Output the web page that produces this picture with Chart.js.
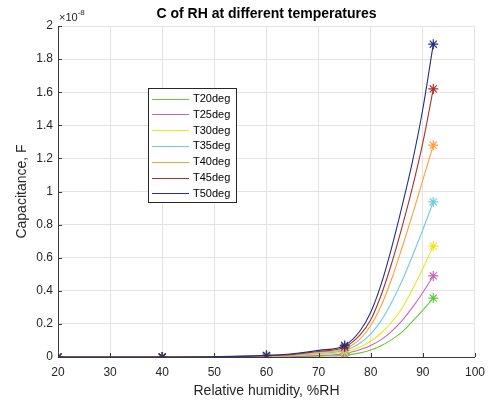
<!DOCTYPE html>
<html>
<head>
<meta charset="utf-8">
<script src="https://cdn.jsdelivr.net/npm/chart.js@4/dist/chart.umd.min.js"></script>
<style>
html,body{margin:0;padding:0;background:#fff;}
#wrap{width:493px;height:401px;position:relative;}
</style>
</head>
<body>
<div id="wrap"><canvas id="c" width="493" height="401"></canvas></div>
<script>
// ---- data (capacitance values in units of 1e-8 F) ----
const seriesLabels = ["T20deg","T25deg","T30deg","T35deg","T40deg","T45deg","T50deg"];
const seriesColors = ["#6cc644","#c766b8","#f0e41c","#6ccbe0","#ff9f3a","#a8322d","#26307e"];

// measured points (markers)
const measRH = [20, 40, 60, 75, 92];
const measT20 = [0, 0, 0.001, 0.01, 0.356];
const measT25 = [0, 0, 0.002, 0.02, 0.49];
const measT30 = [0, 0, 0.004, 0.03, 0.67];
const measT35 = [0, 0, 0.005, 0.04, 0.937];
const measT40 = [0, 0, 0.006, 0.05, 1.28];
const measT45 = [0, 0, 0.008, 0.06, 1.62];
const measT50 = [0, 0, 0.01, 0.07, 1.89];

// fitted curves
const curveRH  = [20, 40, 60, 65, 70, 75, 78, 80, 82, 84, 86, 88, 90, 92];
const curveT20 = [0, 0, 0.001, 0.003, 0.005, 0.01, 0.025, 0.042, 0.068, 0.105, 0.15, 0.215, 0.283, 0.356];
const curveT25 = [0, 0, 0.002, 0.005, 0.01, 0.02, 0.045, 0.07, 0.105, 0.155, 0.22, 0.30, 0.39, 0.49];
const curveT30 = [0, 0, 0.004, 0.008, 0.015, 0.03, 0.06, 0.095, 0.145, 0.21, 0.295, 0.41, 0.535, 0.67];
const curveT35 = [0, 0, 0.005, 0.01, 0.021, 0.04, 0.085, 0.14, 0.22, 0.33, 0.46, 0.61, 0.77, 0.937];
const curveT40 = [0, 0, 0.006, 0.013, 0.027, 0.05, 0.11, 0.19, 0.31, 0.47, 0.66, 0.86, 1.07, 1.28];
const curveT45 = [0, 0, 0.008, 0.016, 0.033, 0.06, 0.135, 0.225, 0.375, 0.565, 0.785, 1.025, 1.295, 1.62];
const curveT50 = [0, 0, 0.01, 0.02, 0.04, 0.07, 0.16, 0.27, 0.44, 0.66, 0.91, 1.18, 1.50, 1.89];

const xTicks = [20, 30, 40, 50, 60, 70, 80, 90, 100];
const yTicks = [0, 0.2, 0.4, 0.6, 0.8, 1, 1.2, 1.4, 1.6, 1.8, 2];

const titleText = "C of RH at different temperatures";
const xTitle = "Relative humidity, %RH";
const yTitle = "Capacitance, F";

// ---- build datasets ----
const meas = [measT20, measT25, measT30, measT35, measT40, measT45, measT50];
const curves = [curveT20, curveT25, curveT30, curveT35, curveT40, curveT45, curveT50];
const toPts = (xs, ys) => xs.map((x, i) => ({x: x, y: ys[i]}));
const datasets = [];
for (let i = 0; i < seriesLabels.length; i++) {
  datasets.push({
    label: seriesLabels[i],
    data: toPts(measRH, meas[i]),
    showLine: false,
    pointStyle: 'star',
    pointRadius: 5,
    pointBorderWidth: 1.2,
    borderColor: seriesColors[i],
    backgroundColor: seriesColors[i],
    order: 2 * (seriesLabels.length - 1 - i) + 1
  });
  datasets.push({
    label: seriesLabels[i],
    data: toPts(curveRH, curves[i]),
    showLine: true,
    pointRadius: 0,
    borderWidth: 1.1,
    borderColor: seriesColors[i],
    backgroundColor: seriesColors[i],
    cubicInterpolationMode: 'monotone',
    order: 2 * (seriesLabels.length - 1 - i) + 1
  });
}

const FONT = '"Liberation Sans", Arial, Helvetica, sans-serif';
const gridColor = '#e3e3e3';
const axisColor = '#3a3a3a';

const decor = {
  id: 'decor',
  afterDraw(chart) {
    const ctx = chart.ctx;
    const a = chart.chartArea;
    const xs = chart.scales.x, ys = chart.scales.y;
    ctx.save();
    // inward tick marks
    ctx.strokeStyle = axisColor;
    ctx.lineWidth = 1;
    ctx.beginPath();
    xTicks.forEach(v => {
      const px = Math.round(xs.getPixelForValue(v)) + 0.5;
      ctx.moveTo(px, a.bottom); ctx.lineTo(px, a.bottom - 4);
    });
    yTicks.forEach(v => {
      const py = Math.round(ys.getPixelForValue(v)) + 0.5;
      ctx.moveTo(a.left, py); ctx.lineTo(a.left + 4, py);
    });
    ctx.stroke();

    // title
    ctx.fillStyle = '#000';
    ctx.font = 'bold 14px ' + FONT;
    ctx.textAlign = 'center';
    ctx.textBaseline = 'middle';
    ctx.fillText(titleText, (a.left + a.right) / 2, 14);

    // exponent label
    ctx.fillStyle = '#262626';
    ctx.textAlign = 'left';
    ctx.font = '11px ' + FONT;
    ctx.fillText('\u00d710', 59, 18);
    const w = ctx.measureText('\u00d710').width;
    ctx.font = '8px ' + FONT;
    ctx.fillText('-8', 59 + w, 13);

    // axis titles
    ctx.fillStyle = '#262626';
    ctx.font = '14px ' + FONT;
    ctx.textAlign = 'center';
    ctx.fillText(xTitle, (a.left + a.right) / 2, 391);
    ctx.save();
    ctx.translate(22, (a.top + a.bottom) / 2);
    ctx.rotate(-Math.PI / 2);
    ctx.fillText(yTitle, 0, 0);
    ctx.restore();

    // legend box
    const lx = 148.5, ly = 88.5, lw = 88, lh = 114;
    ctx.fillStyle = '#fff';
    ctx.fillRect(lx, ly, lw, lh);
    ctx.strokeStyle = '#262626';
    ctx.lineWidth = 1;
    ctx.strokeRect(lx, ly, lw, lh);
    ctx.font = '11px ' + FONT;
    ctx.textAlign = 'left';
    ctx.textBaseline = 'middle';
    for (let i = 0; i < seriesLabels.length; i++) {
      const cy = 98.5 + i * 15.8;
      ctx.strokeStyle = seriesColors[i];
      ctx.beginPath();
      ctx.moveTo(152, Math.round(cy) + 0.5);
      ctx.lineTo(189, Math.round(cy) + 0.5);
      ctx.stroke();
      ctx.fillStyle = '#000';
      ctx.fillText(seriesLabels[i], 193, cy + 0.5);
    }
    ctx.restore();
  }
};

new Chart(document.getElementById('c'), {
  type: 'scatter',
  data: { datasets: datasets },
  options: {
    responsive: false,
    animation: false,
    devicePixelRatio: 1,
    layout: { padding: { top: 26, right: 15, left: 0, bottom: 0 } },
    plugins: { legend: { display: false }, title: { display: false }, tooltip: { enabled: false } },
    scales: {
      x: {
        type: 'linear', min: 20, max: 100,
        afterBuildTicks: s => { s.ticks = xTicks.map(v => ({value: v})); },
        afterFit: s => { s.height = 44; },
        grid: { color: gridColor, drawTicks: false },
        border: { color: axisColor, width: 1 },
        ticks: { color: '#262626', font: { family: FONT, size: 12 }, padding: 8, maxRotation: 0 }
      },
      y: {
        type: 'linear', min: 0, max: 2,
        afterBuildTicks: s => { s.ticks = yTicks.map(v => ({value: v})); },
        afterFit: s => { s.width = 58; },
        grid: { color: gridColor, drawTicks: false },
        border: { color: axisColor, width: 1 },
        ticks: { color: '#262626', font: { family: FONT, size: 12 }, padding: 5,
          callback: v => String(Math.round(v * 10) / 10) }
      }
    }
  },
  plugins: [decor]
});
</script>
</body>
</html>
